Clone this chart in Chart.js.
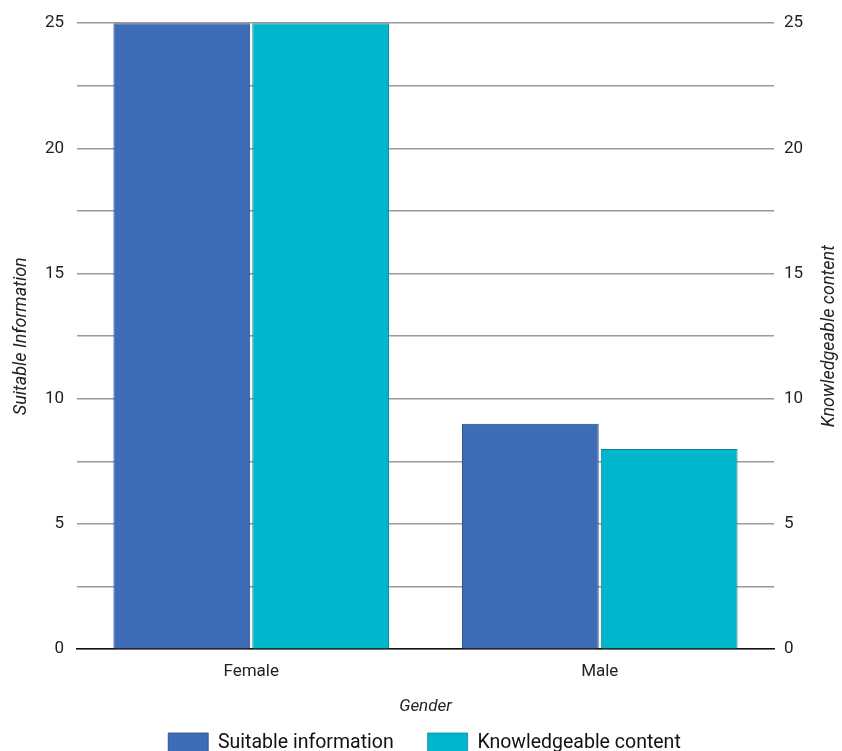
<!DOCTYPE html>
<html>
<head>
<meta charset="utf-8">
<script src="https://cdn.jsdelivr.net/npm/chart.js@4"></script>
<style>
  html, body { margin: 0; padding: 0; background: #fff; }
  #wrap { width: 842px; height: 751px; }
</style>
</head>
<body>
<div id="wrap"><canvas id="c" width="842" height="751"></canvas></div>
<script>
const categories = ['Female', 'Male'];
const suitableInformation = [25, 9];
const knowledgeableContent = [25, 8];
const seriesNames = ['Suitable information', 'Knowledgeable content'];
const leftTitle = 'Suitable Information';
const rightTitle = 'Knowledgeable content';
const xTitle = 'Gender';

const FONT = 'Roboto, "Noto Sans", sans-serif';

const tickCallback = v => (v % 5 === 0 ? String(v) : '');

// Right-hand axis title, written bottom-to-top like the left one
const rightTitlePlugin = {
  id: 'rightTitle',
  afterDraw(chart) {
    const ctx = chart.ctx;
    const area = chart.chartArea;
    ctx.save();
    ctx.translate(829, (area.top + area.bottom) / 2);
    ctx.rotate(-Math.PI / 2);
    ctx.font = 'italic 18px ' + FONT;
    ctx.fillStyle = '#222';
    ctx.textAlign = 'center';
    ctx.textBaseline = 'middle';
    ctx.fillText(rightTitle, 0, 0);
    ctx.restore();
  }
};

new Chart(document.getElementById('c'), {
  type: 'bar',
  data: {
    labels: categories,
    datasets: [
      {
        label: seriesNames[0],
        data: suitableInformation,
        backgroundColor: '#3f6cb6',
        borderColor: '#22427e',
        borderWidth: { top: 1, left: 1, right: 1, bottom: 0 },
        yAxisID: 'y'
      },
      {
        label: seriesNames[1],
        data: knowledgeableContent,
        backgroundColor: '#00b6cc',
        borderColor: '#0a7f93',
        borderWidth: { top: 1, left: 1, right: 1, bottom: 0 },
        yAxisID: 'y'
      }
    ]
  },
  options: {
    responsive: false,
    animation: false,
    layout: { padding: { top: 14, right: 4, bottom: -12, left: 11 } },
    datasets: { bar: { categoryPercentage: 0.797, barPercentage: 0.985 } },
    plugins: {
      legend: {
        position: 'bottom',
        labels: {
          boxWidth: 40,
          boxHeight: 20,
          padding: 34,
          color: '#111',
          font: { family: FONT, size: 19.5 }
        }
      },
      tooltip: { enabled: false }
    },
    scales: {
      x: {
        grid: { display: false },
        border: { display: true, color: '#111', width: 1.5 },
        ticks: { color: '#222', font: { family: FONT, size: 17 }, padding: 4 },
        title: {
          display: true,
          text: xTitle,
          color: '#222',
          font: { family: FONT, size: 17, style: 'italic' },
          padding: { top: 11, bottom: -18 }
        }
      },
      y: {
        position: 'left',
        min: 0,
        max: 25,
        grid: { color: '#9a9a9a', lineWidth: 1.5, drawTicks: false },
        border: { display: false },
        ticks: {
          stepSize: 2.5,
          autoSkip: false,
          callback: tickCallback,
          color: '#222',
          font: { family: FONT, size: 17 },
          padding: 13
        },
        title: {
          display: true,
          text: leftTitle,
          color: '#222',
          font: { family: FONT, size: 18, style: 'italic' },
          padding: { top: 0, bottom: 8 }
        },
        afterFit(scale) { scale.width = 66; }
      },
      y2: {
        position: 'right',
        min: 0,
        max: 25,
        grid: { display: false, drawTicks: false },
        border: { display: false },
        ticks: {
          stepSize: 2.5,
          autoSkip: false,
          callback: tickCallback,
          color: '#222',
          font: { family: FONT, size: 17 },
          padding: 10
        },
        afterFit(scale) { scale.width = 64; }
      }
    }
  },
  plugins: [rightTitlePlugin]
});
</script>
</body>
</html>
